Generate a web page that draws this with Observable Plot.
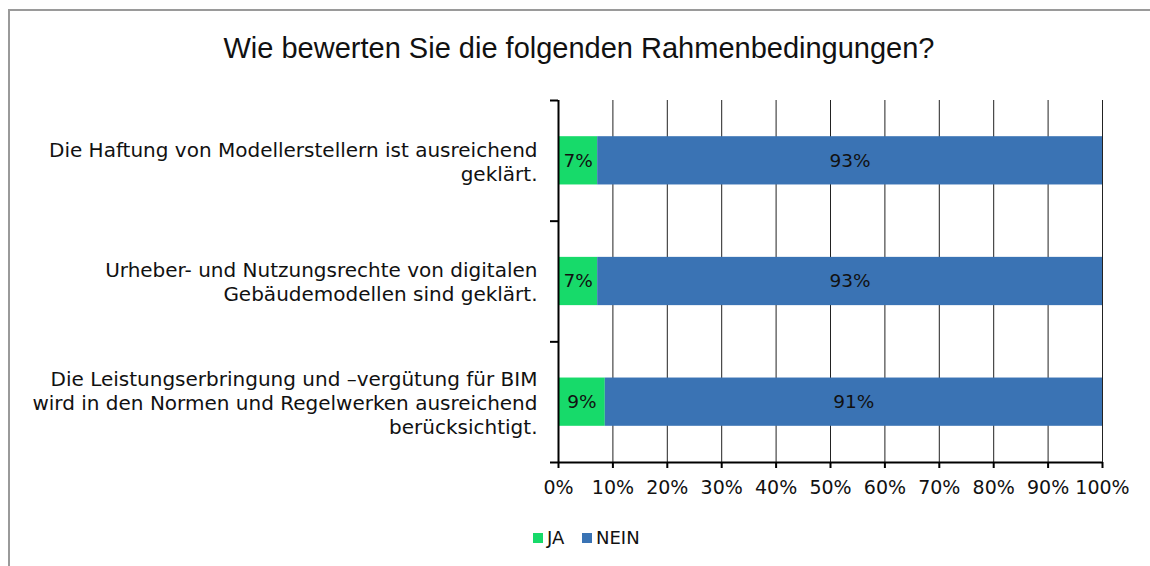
<!DOCTYPE html>
<html><head><meta charset="utf-8">
<script src="https://cdn.jsdelivr.net/npm/d3@7"></script>
<script src="https://cdn.jsdelivr.net/npm/@observablehq/plot@0.6"></script>
<style>
body{margin:0;background:#fff;}
#wrap{position:relative;width:1150px;height:566px;overflow:hidden;background:#fff;}
#frame{position:absolute;left:8px;top:9px;width:1200px;height:600px;border-top:2px solid #9a9a9a;border-left:2px solid #9a9a9a;box-sizing:border-box;}
#title{position:absolute;left:0;top:30px;width:1158px;text-align:center;font-family:"Liberation Sans",Arial,sans-serif;font-size:29px;line-height:36px;color:#111;}
#chart{position:absolute;left:0;top:90px;}
#legend{position:absolute;left:0;top:526px;width:1150px;font-family:"DejaVu Sans",sans-serif;font-size:18px;line-height:24px;color:#111;}
.item{position:absolute;top:0;display:flex;align-items:center;}
.sw{width:10px;height:10px;margin-right:4px;}
</style>
</head><body>
<div id="wrap">
  <div id="frame"></div>
  <div id="title"></div>
  <div id="chart"></div>
  <div id="legend"></div>
</div>
<script>
const title = "Wie bewerten Sie die folgenden Rahmenbedingungen?";
const categories = [
  "Die Haftung von Modellerstellern ist ausreichend\ngeklärt.",
  "Urheber- und Nutzungsrechte von digitalen\nGebäudemodellen sind geklärt.",
  "Die Leistungserbringung und –vergütung für BIM\nwird in den Normen und Regelwerken ausreichend\nberücksichtigt."
];
const series = ["JA", "NEIN"];
const jaValues = [7.2, 7.2, 8.6];
const neinValues = [92.8, 92.8, 91.4];
const jaLabels = ["7%", "7%", "9%"];
const neinLabels = ["93%", "93%", "91%"];
const xTicks = [0, 10, 20, 30, 40, 50, 60, 70, 80, 90, 100];
const colors = ["#17DA6A", "#3A73B4"];

document.getElementById("title").textContent = title;

const rows = [];
categories.forEach((c, i) => {
  rows.push({cat: c, idx: i, series: "JA", x1: 0, x2: jaValues[i], label: jaLabels[i]});
  rows.push({cat: c, idx: i, series: "NEIN", x1: jaValues[i], x2: jaValues[i] + neinValues[i], label: neinLabels[i]});
});

const font = "DejaVu Sans";
const chart = Plot.plot({
  width: 1150,
  height: 420,
  marginTop: 10,
  marginBottom: 48,
  marginLeft: 558,
  marginRight: 48,
  style: {fontFamily: font, fontSize: "16px", color: "#111", background: "transparent", overflow: "visible"},
  x: {domain: [0, 100]},
  y: {domain: [0, categories.length], reverse: true},
  color: {domain: series, range: colors},
  marks: [
    Plot.gridX(xTicks, {stroke: "#222", strokeOpacity: 1, strokeWidth: 1}),
    Plot.rect(rows, {x1: "x1", x2: "x2", y1: d => d.idx + 0.3, y2: d => d.idx + 0.7, fill: "series"}),
    Plot.text(rows, {x: d => (d.x1 + d.x2) / 2, y: d => d.idx + 0.5, text: "label", fontSize: 18.5, fill: "#111"}),
    Plot.ruleX([0], {stroke: "#000", strokeWidth: 2}),
    Plot.ruleY([categories.length], {stroke: "#000", strokeWidth: 2}),
    Plot.axisY({ticks: d3.range(categories.length + 1), tickSize: 8, tickFormat: () => "", stroke: "#000", strokeWidth: 2, label: null}),
    Plot.axisX({ticks: xTicks, tickSize: 6, tickPadding: 12, tickFormat: d => d + "%", fontSize: 19, stroke: "#000", strokeWidth: 2, label: null}),
    Plot.text(categories, {x: 0, y: (d, i) => i + 0.5, text: d => d, textAnchor: "end", dx: -21, lineHeight: 1.2, fontSize: 20, fill: "#111"})
  ]
});
document.getElementById("chart").appendChild(chart);

const legend = document.getElementById("legend");
const legendX = [533, 582];
series.forEach((s, i) => {
  const it = document.createElement("div");
  it.className = "item";
  it.style.left = legendX[i] + "px";
  const sw = document.createElement("div");
  sw.className = "sw";
  sw.style.background = colors[i];
  const t = document.createElement("span");
  t.textContent = s;
  it.appendChild(sw); it.appendChild(t);
  legend.appendChild(it);
});
</script>
</body></html>
